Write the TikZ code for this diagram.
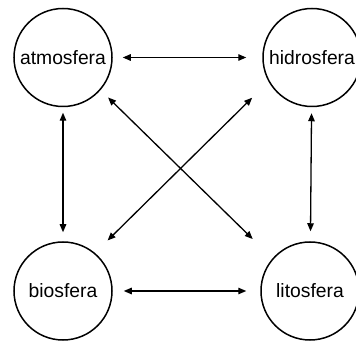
\documentclass[tikz,border=0pt]{standalone}
\usepackage{fontspec}
\setmainfont{Liberation Sans}
\usetikzlibrary{arrows.meta}
\begin{document}
\begin{tikzpicture}[x=1pt,y=-1pt,
  sphere/.style={draw, circle, line width=1.5pt, minimum size=98pt, inner sep=0pt,
    font=\fontsize{19.3}{23}\selectfont},
  arr/.style={line width=1.3pt, {Triangle[length=8pt,width=6.5pt]}-{Triangle[length=8pt,width=6.5pt]}}]
\useasboundingbox (0,0) rectangle (356,344);
\node[sphere] (A) at (63,57.5) {atmosfera};
\node[sphere] (H) at (312,57.5) {hidrosfera};
\node[sphere] (B) at (63,291) {biosfera};
\node[sphere] (L) at (310,291) {litosfera};
\draw[arr, shorten <=10pt, shorten >=16pt] (A) -- (H);
\draw[arr, shorten <=11pt, shorten >=14pt] (B) -- (L);
\draw[arr, shorten <=5.5pt, shorten >=9pt] (A) -- (B);
\draw[arr, shorten <=6pt, shorten >=10pt] (H) -- (L);
\draw[arr, shorten <=10.5pt, shorten >=27.6pt] (A.-41.8) -- (L.139.6);
\draw[arr, shorten <=22.9pt, shorten >=17.7pt] (H.209) -- (B.50.1);
\end{tikzpicture}
\end{document}
